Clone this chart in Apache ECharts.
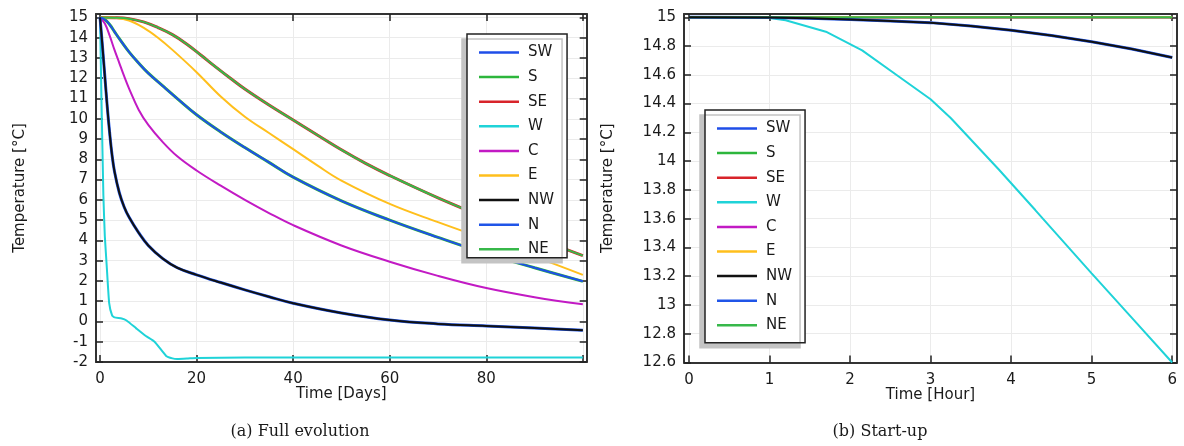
<!DOCTYPE html>
<html>
<head>
<meta charset="utf-8">
<script src="https://cdn.jsdelivr.net/npm/echarts@6/dist/echarts.min.js"></script>
<style>
  html, body { margin: 0; padding: 0; background: #fff; }
  #chart { width: 1184px; height: 446px; }
</style>
</head>
<body>
<div id="chart"></div>
<script>
// ---- data ----
const names = ['SW', 'S', 'SE', 'W', 'C', 'E', 'NW', 'N', 'NE'];

// (a) full evolution, time in days
const dTop = [0, 3, 6, 9, 12, 15, 18, 21, 24, 27, 30, 35, 40, 45, 50, 55, 60, 70, 80, 90, 100];
const tTop = [15, 14.99, 14.94, 14.78, 14.5, 14.15, 13.68, 13.12, 12.55, 12.0, 11.47, 10.68, 9.94, 9.2, 8.47, 7.8, 7.2, 6.1, 5.1, 4.15, 3.25];   // SE, NE

const dE = [0, 3, 6, 9, 12, 15, 20, 25, 30, 35, 40, 45, 50, 60, 70, 80, 90, 100];
const tE = [15, 14.98, 14.85, 14.5, 14.0, 13.4, 12.3, 11.1, 10.1, 9.3, 8.5, 7.7, 6.95, 5.8, 4.9, 4.05, 3.2, 2.3];

const dMid = [0, 1, 2, 3, 4, 6, 8, 10, 13, 16, 20, 25, 30, 35, 40, 50, 60, 70, 80, 90, 100];
const tMid = [15, 14.9, 14.65, 14.3, 13.95, 13.3, 12.75, 12.25, 11.62, 11.0, 10.2, 9.35, 8.58, 7.85, 7.12, 5.95, 5.0, 4.15, 3.35, 2.65, 1.98];   // SW, S

const dC = [0, 1, 2, 3, 4, 5, 6, 8, 10, 13, 16, 20, 25, 30, 35, 40, 50, 60, 70, 80, 90, 100];
const tC = [15, 14.7, 14.1, 13.4, 12.75, 12.1, 11.5, 10.45, 9.7, 8.85, 8.15, 7.45, 6.7, 6.0, 5.35, 4.75, 3.75, 2.95, 2.25, 1.65, 1.2, 0.85];

const dLow = [0, 0.5, 1, 1.5, 2, 2.5, 3, 4, 5, 6, 8, 10, 13, 16, 20, 25, 30, 35, 40, 50, 60, 70, 80, 90, 100];
const tLow = [15, 13.6, 12.1, 10.6, 9.3, 8.2, 7.4, 6.35, 5.65, 5.15, 4.38, 3.75, 3.1, 2.65, 2.3, 1.92, 1.56, 1.22, 0.9, 0.42, 0.07, -0.12, -0.22, -0.32, -0.43];   // NW, N

const dW = [0, 0.3, 0.7, 1, 1.4, 1.9, 2.5, 3, 4.5, 5.5, 7.5, 9.5, 11.3, 13.7, 15, 16, 18, 20, 30, 40, 50, 60, 70, 80, 90, 100];
const tW = [15, 11, 6.2, 4.2, 2.7, 0.9, 0.3, 0.2, 0.15, 0.05, -0.34, -0.72, -1.0, -1.7, -1.82, -1.85, -1.83, -1.8, -1.78, -1.78, -1.78, -1.78, -1.78, -1.78, -1.78, -1.78];

// (b) start-up, time in hours
const hFlat = [0, 6];
const tFlat = [15, 15];

const hLow = [0, 1, 1.5, 2, 2.5, 3, 3.5, 4, 4.5, 5, 5.5, 6];
const tLowH = [15, 14.998, 14.993, 14.985, 14.975, 14.963, 14.94, 14.91, 14.873, 14.83, 14.78, 14.72];   // NW, N

const hW = [0, 0.5, 1, 1.2, 1.7, 2.15, 2.6, 3, 3.25, 3.85, 4.3, 5, 5.5, 6];
const tWH = [15, 15, 14.995, 14.98, 14.9, 14.77, 14.59, 14.43, 14.3, 13.94, 13.66, 13.22, 12.91, 12.6];

// ticks
const dayTicks = [0, 20, 40, 60, 80, 100];
const dayLabels = [0, 20, 40, 60, 80];
const hourTicks = [0, 1, 2, 3, 4, 5, 6];
const tempTicksA = [-2, -1, 0, 1, 2, 3, 4, 5, 6, 7, 8, 9, 10, 11, 12, 13, 14, 15];
const tempTicksB = [12.6, 12.8, 13, 13.2, 13.4, 13.6, 13.8, 14, 14.2, 14.4, 14.6, 14.8, 15];

// ---- chart ----
const FONT = 'DejaVu Sans';
const INK = '#1a1a1a';
const colors = {
  SW: '#1f4ee8', S: '#2db63c', SE: '#d8242a', W: '#1fd3d8', C: '#c21ac4',
  E: '#ffbf1c', NW: '#111111', N: '#2055e8', NE: '#37b84a'
};

function zip(xs, ys) { return xs.map((x, i) => [x, ys[i]]); }

function line(name, ax, xs, ys, opts) {
  opts = opts || {};
  return {
    name: name, type: 'line', xAxisIndex: ax, yAxisIndex: ax,
    data: zip(xs, ys), symbol: 'none', showSymbol: false,
    smooth: opts.smooth === undefined ? 0.4 : opts.smooth,
    z: opts.z || 2,
    lineStyle: { color: colors[name], width: opts.width || 2 },
    itemStyle: { color: colors[name] },
    emphasis: { disabled: true }
  };
}

function xAx(grid, min, max, ticks, labels, name, top) {
  return {
    type: 'value', gridIndex: grid, min: min, max: max,
    position: top ? 'top' : 'bottom',
    name: top ? '' : name, nameLocation: 'middle', nameGap: 25, nameMoveOverlap: false,
    nameTextStyle: { fontFamily: FONT, fontSize: 15, color: INK },
    axisLine: { show: true, onZero: false, lineStyle: { color: '#333', width: 2 } },
    axisTick: { show: true, inside: true, length: 7, customValues: ticks, lineStyle: { color: '#222', width: 1.5 } },
    axisLabel: { show: !top, customValues: labels, margin: 10, fontFamily: FONT, fontSize: 15, color: INK },
    splitLine: { show: !top, lineStyle: { color: '#ebebeb', width: 1 } }
  };
}

function yAx(grid, min, max, ticks, right) {
  return {
    type: 'value', gridIndex: grid, min: min, max: max,
    position: right ? 'right' : 'left',
    name: right ? '' : 'Temperature [°C]', nameLocation: 'middle', nameGap: 68, nameMoveOverlap: false,
    nameTextStyle: { fontFamily: FONT, fontSize: 15, color: INK },
    axisLine: { show: true, onZero: false, lineStyle: { color: '#333', width: 2 } },
    axisTick: { show: true, inside: true, length: 7, customValues: ticks, lineStyle: { color: '#222', width: 1.5 } },
    axisLabel: {
      show: !right, customValues: ticks, margin: 8, fontFamily: FONT, fontSize: 15, color: INK,
      formatter: v => String(parseFloat(Number(v).toFixed(1)))
    },
    splitLine: { show: !right, lineStyle: { color: '#ebebeb', width: 1 } }
  };
}

function legend(left, top, padding) {
  return {
    data: names, orient: 'vertical', left: left, top: top, padding: padding,
    icon: 'rect', itemWidth: 40, itemHeight: 2.5, itemGap: 9.6, selectedMode: false,
    backgroundColor: '#fff', borderColor: '#222', borderWidth: 1.5,
    shadowColor: '#c4c4c4', shadowBlur: 0, shadowOffsetX: -5, shadowOffsetY: 5,
    textStyle: { fontFamily: FONT, fontSize: 15, color: INK, lineHeight: 15, padding: [0, 0, 0, 4] }
  };
}

const series = [
  // (a) days
  line('SW', 0, dMid, tMid, { z: 3 }),
  line('S', 0, dMid, tMid, { width: 3 }),
  line('SE', 0, dTop, tTop, { width: 3 }),
  line('W', 0, dW, tW, { smooth: 0.15 }),
  line('C', 0, dC, tC),
  line('E', 0, dE, tE),
  line('NW', 0, dLow, tLow, { z: 3 }),
  line('N', 0, dLow, tLow, { width: 3 }),
  line('NE', 0, dTop, tTop),
  // (b) hours
  line('SW', 1, hFlat, tFlat),
  line('S', 1, hFlat, tFlat),
  line('SE', 1, hFlat, tFlat),
  line('W', 1, hW, tWH, { smooth: false }),
  line('C', 1, hFlat, tFlat),
  line('E', 1, hFlat, tFlat),
  line('NW', 1, hLow, tLowH, { z: 3, smooth: false }),
  line('N', 1, hLow, tLowH, { width: 3, smooth: false }),
  line('NE', 1, hFlat, tFlat)
];

// index 0/1 are the bottom/left axes, 2/3 the top/right box sides
const xAxes = [
  xAx(0, -0.83, 100.8, dayTicks, dayLabels, 'Time [Days]', false),
  xAx(1, -0.062, 6.06, hourTicks, hourTicks, 'Time [Hour]', false),
  xAx(0, -0.83, 100.8, dayTicks, dayLabels, '', true),
  xAx(1, -0.062, 6.06, hourTicks, hourTicks, '', true)
];
const yAxes = [
  yAx(0, -2, 15.17, tempTicksA, false),
  yAx(1, 12.6, 15.023, tempTicksB, false),
  yAx(0, -2, 15.17, tempTicksA, true),
  yAx(1, 12.6, 15.023, tempTicksB, true)
];

const chart = echarts.init(document.getElementById('chart'), null, { renderer: 'canvas' });
chart.setOption({
  animation: false,
  backgroundColor: '#fff',
  grid: [
    { left: 96, top: 14, width: 490.7, height: 348 },
    { left: 684, top: 14, width: 493, height: 348.5 }
  ],
  xAxis: xAxes,
  yAxis: yAxes,
  legend: [legend(467, 34, [11, 13, 1, 12]), legend(705, 110, [11, 13, 10, 12])],
  tooltip: { show: false },
  series: series,
  graphic: [
    { type: 'text', style: { text: '(a) Full evolution', x: 300, y: 432, align: 'center', verticalAlign: 'middle', font: '16px "DejaVu Serif"', fill: INK } },
    { type: 'text', style: { text: '(b) Start-up', x: 880, y: 432, align: 'center', verticalAlign: 'middle', font: '16px "DejaVu Serif"', fill: INK } }
  ]
});
</script>
</body>
</html>
